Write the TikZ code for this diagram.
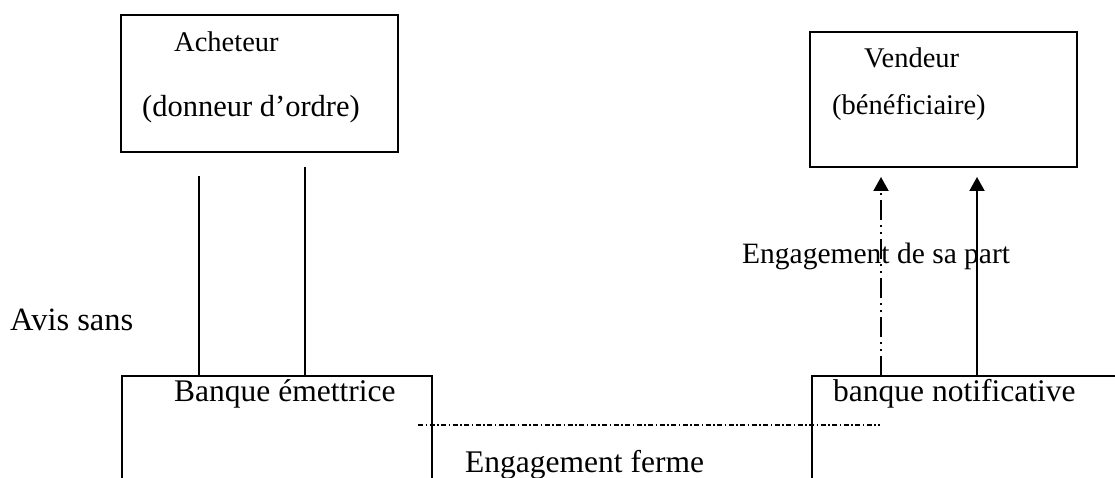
\documentclass[tikz,border=0pt]{standalone}
\usepackage{fontspec}
\setmainfont{Liberation Serif}
\usetikzlibrary{arrows.meta}
\begin{document}
\begin{tikzpicture}[x=1pt,y=-1pt,
  bigtxt/.style={font=\fontsize{31.5}{38}\selectfont, inner sep=0pt, anchor=base west},
  boxtxt/.style={font=\fontsize{28.5}{34}\selectfont, inner sep=0pt, anchor=base west},
  widetxt/.style={font=\fontsize{30.5}{36}\selectfont, inner sep=0pt, anchor=base west},
  sidetxt/.style={font=\fontsize{32.5}{38}\selectfont, inner sep=0pt, anchor=base west},
  midtxt/.style={font=\fontsize{29.5}{36}\selectfont, inner sep=0pt, anchor=base west},
  party/.style={draw, line width=1.8pt, inner sep=0pt},
  bankframe/.style={line width=1.8pt},
  link/.style={line width=1.5pt},
  notice/.style={line width=2pt, -{Triangle[width=15pt,length=14pt]}},
  noticedd/.style={notice, dash pattern=on 20pt off 5pt on 2pt off 5pt on 2pt off 5pt},
  firm/.style={line width=1.3pt, dash pattern=on 5pt off 2.5pt on 1.5pt off 2.5pt}]
\useasboundingbox (0,0) rectangle (1115,478);

% the two parties
\node[party, minimum width=277pt, minimum height=137pt] (ach) at (259.5,83.5) {};
\node[party, minimum width=267pt, minimum height=135pt] (vend) at (943.5,99.5) {};
\node[boxtxt] (achA) at (174,52) {Acheteur};
\node[widetxt] (achB) at (142,117) {(donneur d’ordre)};
\node[boxtxt] (vendA) at (864,68) {Vendeur};
\node[boxtxt] (vendB) at (832,115) {(bénéficiaire)};

% the two banks, open at the bottom
\coordinate (em-nw) at (122,376);
\coordinate (em-ne) at (432,376);
\coordinate (no-nw) at (812,376);
\coordinate (no-ne) at (1115,376);
\draw[bankframe] (em-nw |- 0,478) -- (em-nw) -- (em-ne) -- (em-ne |- 0,478);
\draw[bankframe] (no-nw |- 0,478) -- (no-nw) -- (no-ne);
\node[bigtxt] (em) at (174,401) {Banque émettrice};
\node[bigtxt] (no) at (833,401) {banque notificative};

% buyer to issuing bank
\coordinate (a1) at (199,176);
\coordinate (a2) at (305,167);
\draw[link] (a1) -- (a1 |- em-nw);
\draw[link] (a2) -- (a2 |- em-nw);
\node[sidetxt] (avis) at (10,330) {Avis sans};

% advising bank to seller
\coordinate (v1) at (881,177);
\coordinate (v2) at (977,177);
\draw[noticedd] (v1 |- no-nw) -- (v1);
\draw[notice] (v2 |- no-nw) -- (v2);
\node[midtxt] (sapart) at (742,263) {Engagement de sa part};

% firm commitment between the banks
\coordinate (f1) at (418,425);
\coordinate (f2) at (880,425);
\draw[firm] (f1) -- (f2);
\node[bigtxt] (ferme) at (465,472) {Engagement ferme};
\end{tikzpicture}
\end{document}
